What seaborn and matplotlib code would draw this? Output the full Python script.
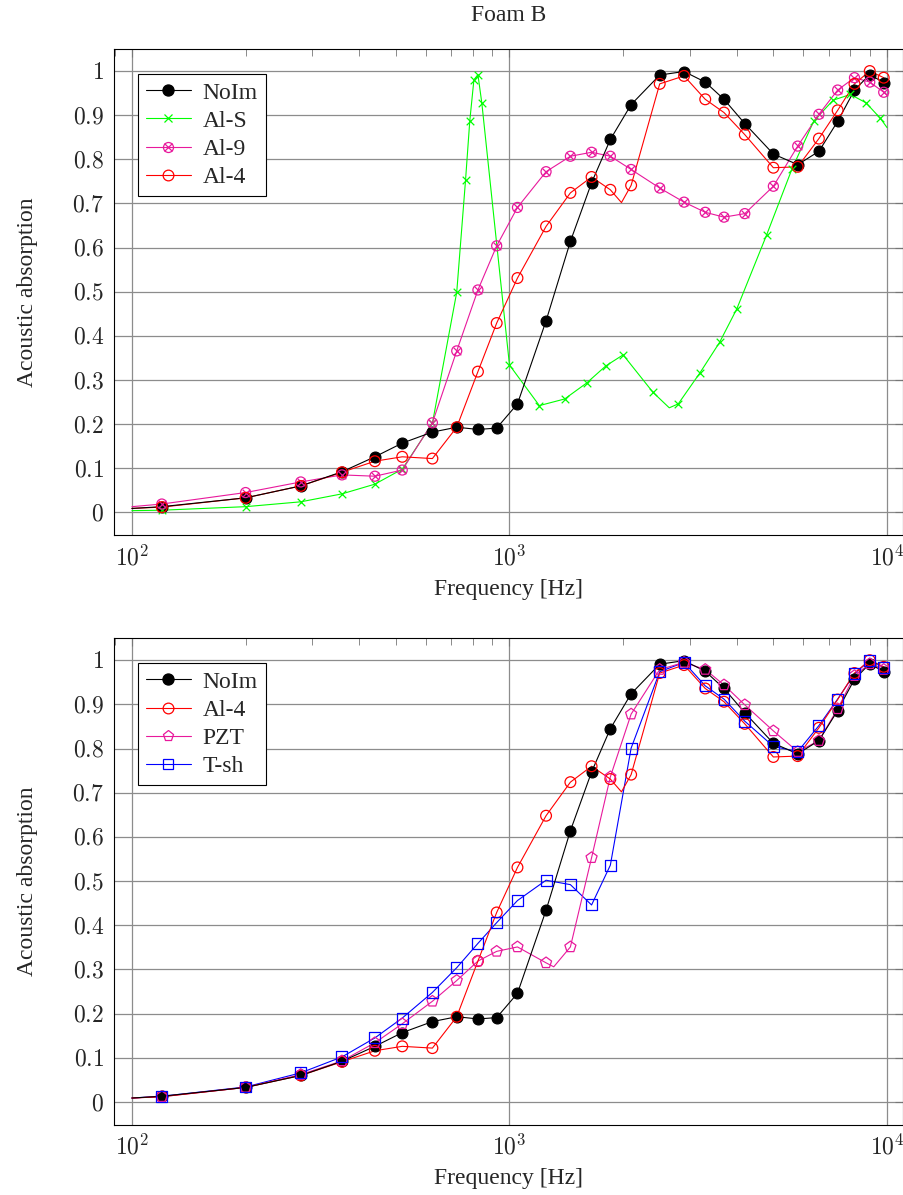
import numpy as np
import pandas as pd
import matplotlib
matplotlib.use("Agg")
import matplotlib.pyplot as plt
import seaborn as sns
from matplotlib.lines import Line2D
from matplotlib.legend_handler import HandlerTuple
from matplotlib.ticker import LogLocator, NullFormatter

# marker frequencies (Hz)
freq = [120, 200, 280, 360, 440, 520, 625, 725, 825, 925, 1050, 1250, 1450, 1650,
        1850, 2100, 2500, 2900, 3300, 3700, 4200, 5000, 5800, 6600, 7400, 8200, 9000, 9800]

noim = [0.013, 0.033, 0.060, 0.092, 0.126, 0.157, 0.182, 0.193, 0.188, 0.191, 0.246, 0.434, 0.614, 0.747,
        0.845, 0.924, 0.991, 0.999, 0.975, 0.936, 0.881, 0.812, 0.788, 0.818, 0.886, 0.957, 0.992, 0.974]
al4 = [0.012, 0.033, 0.060, 0.091, 0.116, 0.126, 0.122, 0.193, 0.319, 0.429, 0.531, 0.648, 0.724, 0.760,
       0.731, 0.741, 0.971, 0.989, 0.936, 0.906, 0.856, 0.781, 0.783, 0.847, 0.911, 0.971, 1.000, 0.985]
al9 = [0.019, 0.045, 0.069, 0.085, 0.082, 0.096, 0.203, 0.366, 0.504, 0.604, 0.691, 0.772, 0.807, 0.816,
       0.807, 0.777, 0.735, 0.703, 0.680, 0.669, 0.677, 0.739, 0.830, 0.902, 0.957, 0.985, 0.975, 0.952]
pzt = [0.012, 0.033, 0.062, 0.093, 0.134, 0.177, 0.228, 0.275, 0.319, 0.341, 0.351, 0.315, 0.351, 0.553,
       0.736, 0.878, 0.979, 0.995, 0.979, 0.944, 0.899, 0.840, 0.793, 0.818, 0.890, 0.965, 0.992, 0.979]
tsh = [0.013, 0.034, 0.066, 0.102, 0.145, 0.190, 0.248, 0.304, 0.359, 0.406, 0.456, 0.502, 0.492, 0.446,
       0.536, 0.801, 0.974, 0.995, 0.942, 0.912, 0.862, 0.805, 0.793, 0.852, 0.912, 0.969, 1.000, 0.984]

freq_als = [120, 200, 280, 360, 440, 520, 625, 725, 765, 785, 805, 825, 845, 1000, 1200, 1400,
            1600, 1800, 2000, 2400, 2800, 3200, 3600, 4000, 4800, 5600, 6400, 7200, 8000, 8800, 9600]
als = [0.005, 0.013, 0.024, 0.042, 0.064, 0.098, 0.202, 0.499, 0.753, 0.887, 0.980, 0.992, 0.927, 0.334, 0.242, 0.257,
       0.293, 0.332, 0.357, 0.272, 0.246, 0.317, 0.385, 0.461, 0.629, 0.778, 0.887, 0.934, 0.947, 0.928, 0.893]

# curve points without a marker (ends of the curves and visible dips)
noim_line_f, noim_line_v = [100, 10000], [0.009, 0.970]
al4_line_f, al4_line_v = [100, 1980, 10000], [0.009, 0.702, 0.975]
al9_line_f, al9_line_v = [100, 10000], [0.013, 0.945]
als_line_f, als_line_v = [100, 2650, 10000], [0.004, 0.237, 0.872]
pzt_line_f, pzt_line_v = [100, 1310, 10000], [0.009, 0.306, 0.972]
tsh_line_f, tsh_line_v = [100, 10000], [0.009, 0.975]

GREEN = "#00ff00"
MAG = "#e8199c"
RED = "#ff0000"
BLUE = "#0000ff"

sns.set_theme(style="white")
plt.rcParams["font.family"] = ["Liberation Serif", "DejaVu Serif"]
plt.rcParams["mathtext.fontset"] = "cm"
plt.rcParams["font.size"] = 17
plt.rcParams["axes.edgecolor"] = "black"
plt.rcParams["axes.linewidth"] = 0.8


def draw_line(ax, f_m, v_m, f_x, v_x, color):
    df = pd.DataFrame({"f": list(f_m) + list(f_x), "v": list(v_m) + list(v_x)}).sort_values("f")
    sns.lineplot(data=df, x="f", y="v", ax=ax, color=color, lw=0.8, sort=True, estimator=None, zorder=3)


def draw_marks(ax, f_m, v_m, color, marker, size, filled=False):
    df = pd.DataFrame({"f": f_m, "v": v_m})
    if marker == "x":
        sns.scatterplot(data=df, x="f", y="v", ax=ax, marker="x", s=size, color=color, linewidth=0.9, zorder=4)
    elif filled:
        sns.scatterplot(data=df, x="f", y="v", ax=ax, marker=marker, s=size, color=color,
                        edgecolor=color, linewidth=0.8, zorder=4)
    else:
        sns.scatterplot(data=df, x="f", y="v", ax=ax, marker=marker, s=size, facecolor="none",
                        edgecolor=color, linewidth=0.9, zorder=4)


def style_axes(ax):
    ax.set_xscale("log")
    ax.set_xlim(89.6, 11030)
    ax.set_ylim(-0.052, 1.05)
    ax.set_xticks([100, 1000, 10000])
    ax.set_xticklabels([r"$10^{2}$", r"$10^{3}$", r"$10^{4}$"])
    ax.xaxis.set_minor_locator(LogLocator(base=10, subs=np.arange(2, 10)))
    ax.xaxis.set_minor_formatter(NullFormatter())
    yt = np.round(np.arange(0, 1.01, 0.1), 1)
    ax.set_yticks(yt)
    ax.set_yticklabels(["$0$"] + [f"${v:g}$" for v in yt[1:]])
    ax.tick_params(which="both", direction="in", top=True, right=True, labelsize=17, color="#777777")
    ax.tick_params(which="major", length=6, width=0.8, pad=7)
    ax.tick_params(which="minor", length=5, width=0.6)
    ax.grid(True, which="major", color="#8c8c8c", lw=0.9)
    ax.set_axisbelow(True)
    ax.set_xlabel("Frequency [Hz]", fontsize=17, labelpad=6)
    ax.set_ylabel("Acoustic absorption", fontsize=17, labelpad=25)


def legend_line(color, marker, ms, filled=False):
    return Line2D([], [], color=color, lw=0.8, marker=marker, ms=ms,
                  mfc=color if filled else "none", mec=color, mew=0.9)


fig = plt.figure(figsize=(9.04, 11.95), dpi=100)
ax1 = fig.add_axes([0.126, 0.552, 0.873, 0.407])
ax2 = fig.add_axes([0.126, 0.0586, 0.873, 0.4074])

# top panel
draw_line(ax1, freq_als, als, als_line_f, als_line_v, GREEN)
draw_line(ax1, freq, al9, al9_line_f, al9_line_v, MAG)
draw_line(ax1, freq, al4, al4_line_f, al4_line_v, RED)
draw_line(ax1, freq, noim, noim_line_f, noim_line_v, "black")
draw_marks(ax1, freq, noim, "black", "o", 62, filled=True)
draw_marks(ax1, freq_als, als, GREEN, "x", 30)
draw_marks(ax1, freq, al9, MAG, "o", 52)
draw_marks(ax1, freq, al9, MAG, "x", 30)
draw_marks(ax1, freq, al4, RED, "o", 60)
style_axes(ax1)
ax1.set_title("Foam B", fontsize=17, pad=20)

h1 = [legend_line("black", "o", 8, filled=True),
      legend_line(GREEN, "x", 5.5),
      (legend_line(MAG, "o", 7.2), Line2D([], [], color=MAG, ls="none", marker="x", ms=5.4, mew=0.9)),
      legend_line(RED, "o", 7.7)]
ax1.legend(h1, ["NoIm", "Al-S", "Al-9", "Al-4"], loc="upper left", bbox_to_anchor=(0.03, 0.949),
           borderaxespad=0, fancybox=False, edgecolor="black", framealpha=1, fontsize=17,
           handlelength=1.9, handletextpad=0.5, labelspacing=0.28, borderpad=0.35, numpoints=1,
           handler_map={tuple: HandlerTuple(ndivide=1)}).get_frame().set_linewidth(0.8)

# bottom panel
draw_line(ax2, freq, tsh, tsh_line_f, tsh_line_v, BLUE)
draw_line(ax2, freq, pzt, pzt_line_f, pzt_line_v, MAG)
draw_line(ax2, freq, al4, al4_line_f, al4_line_v, RED)
draw_line(ax2, freq, noim, noim_line_f, noim_line_v, "black")
draw_marks(ax2, freq, noim, "black", "o", 62, filled=True)
draw_marks(ax2, freq, al4, RED, "o", 60)
draw_marks(ax2, freq, pzt, MAG, "p", 70)
draw_marks(ax2, freq, tsh, BLUE, "s", 62)
style_axes(ax2)

h2 = [legend_line("black", "o", 8, filled=True),
      legend_line(RED, "o", 7.7),
      legend_line(MAG, "p", 8),
      legend_line(BLUE, "s", 7.8)]
ax2.legend(h2, ["NoIm", "Al-4", "PZT", "T-sh"], loc="upper left", bbox_to_anchor=(0.03, 0.949),
           borderaxespad=0, fancybox=False, edgecolor="black", framealpha=1, fontsize=17,
           handlelength=1.9, handletextpad=0.5, labelspacing=0.28, borderpad=0.35,
           numpoints=1).get_frame().set_linewidth(0.8)

fig.savefig("out.png", dpi=100)
